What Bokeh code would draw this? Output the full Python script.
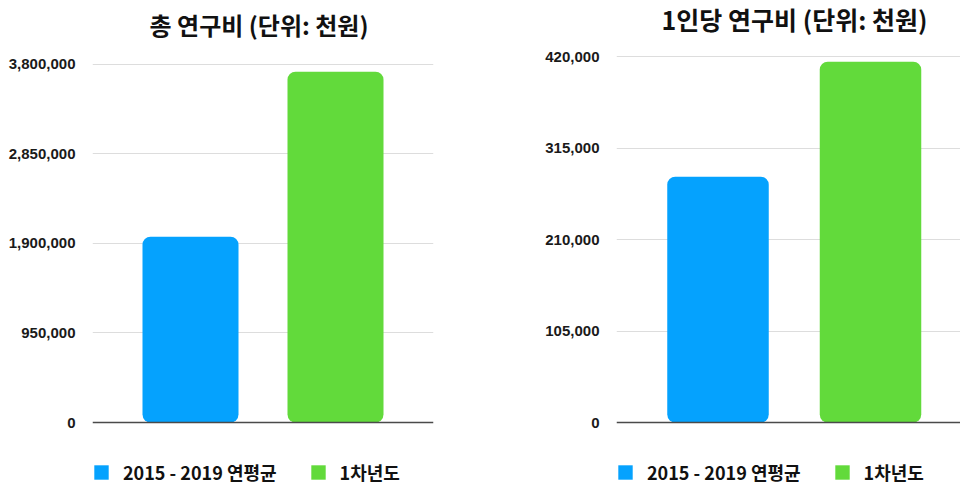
from bokeh.plotting import figure
from bokeh.models import (ColumnDataSource, Range1d, FixedTicker, NumeralTickFormatter,
                          Legend, LegendItem, Label, Span)
from bokeh.layouts import row
from bokeh.embed import file_html
from bokeh.resources import INLINE

categories = ["2015 - 2019 연평균", "1차년도"]
colors = ["#05A2FE", "#62DA3B"]

total_title = "총 연구비 (단위: 천원)"
total_values = [1970000, 3720000]
total_ticks = [0, 950000, 1900000, 2850000, 3800000]

per_title = "1인당 연구비 (단위: 천원)"
per_values = [282000, 414000]
per_ticks = [0, 105000, 210000, 315000, 420000]

KR = "Noto Sans CJK KR"
NUM = "Liberation Sans"

FRAME_H = 485        # frame spans the whole canvas height
ZERO_FROM_TOP = 422  # zero line, px from canvas top


def make_chart(title, values, ticks, tick_px, frame_w, bl, br,
               x_lo_px, x_hi_px, spacing_px, bar_px, title_xy, title_size, legend_xy):
    xs = list(range(1, len(categories) + 1))
    src = ColumnDataSource(dict(x=xs, top=values, color=colors, label=categories))
    step = ticks[1] - ticks[0]
    unit = step / tick_px  # data units per pixel
    y_end = ZERO_FROM_TOP * unit
    y_start = -(FRAME_H - ZERO_FROM_TOP) * unit
    p = figure(frame_width=frame_w, frame_height=FRAME_H,
               min_border_left=bl, min_border_right=br,
               min_border_top=0, min_border_bottom=0,
               x_range=Range1d(1 - x_lo_px / spacing_px, 2 + x_hi_px / spacing_px),
               y_range=Range1d(y_start, y_end),
               output_backend="svg", toolbar_location=None, tools="")
    p.title.visible = False
    p.outline_line_color = None
    p.background_fill_color = "white"
    p.border_fill_color = "white"

    r = p.vbar(x="x", top="top", width=bar_px / spacing_px, color="color", source=src,
               line_color=None, border_radius=8)

    p.yaxis.ticker = FixedTicker(ticks=ticks)
    p.yaxis.formatter = NumeralTickFormatter(format="0,0")
    p.yaxis.axis_line_color = None
    p.yaxis.major_tick_line_color = None
    p.yaxis.major_tick_out = 0
    p.yaxis.major_tick_in = 0
    p.yaxis.minor_tick_line_color = None
    p.yaxis.major_label_standoff = 17
    p.yaxis.major_label_text_font = NUM
    p.yaxis.major_label_text_font_style = "bold"
    p.yaxis.major_label_text_font_size = "15px"
    p.yaxis.major_label_text_color = "#1a1a1a"
    p.xaxis.visible = False

    p.xgrid.grid_line_color = None
    p.ygrid.ticker = FixedTicker(ticks=ticks[1:])
    p.ygrid.grid_line_color = "#dddddd"
    p.ygrid.grid_line_width = 1

    p.add_layout(Span(location=0, dimension="width", line_color="#4a4a4a", line_width=1.5))

    p.add_layout(Label(x=title_xy[0], y=title_xy[1], x_units="screen", y_units="screen",
                       text=title, text_align="center", text_baseline="middle",
                       text_font=KR, text_font_style="bold", text_font_size=title_size,
                       text_color="#111111"))

    legend = Legend(items=[LegendItem(label=categories[i], renderers=[r], index=i)
                           for i in range(len(categories))],
                    location=legend_xy, orientation="horizontal")
    legend.border_line_color = None
    legend.background_fill_alpha = 0
    legend.padding = 0
    legend.margin = 0
    legend.glyph_width = 18
    legend.glyph_height = 18
    legend.label_standoff = 13
    legend.spacing = 32
    legend.label_text_font = KR
    legend.label_text_font_style = "bold"
    legend.label_text_font_size = "18px"
    legend.label_text_color = "#111111"
    p.add_layout(legend, "center")
    return p


p1 = make_chart(total_title, total_values, total_ticks, 89.6, 341, 92, 52,
                98, 98, 145, 96, (166.5, 461), "24px", (0, 0))
p2 = make_chart(per_title, per_values, per_ticks, 91.5, 344, 131, 0,
                101.5, 90, 152.5, 101.5, (178, 467), "25px", (0, 0))

layout = row(p1, p2, spacing=0)
open("out.html", "w").write(file_html(layout, INLINE))
